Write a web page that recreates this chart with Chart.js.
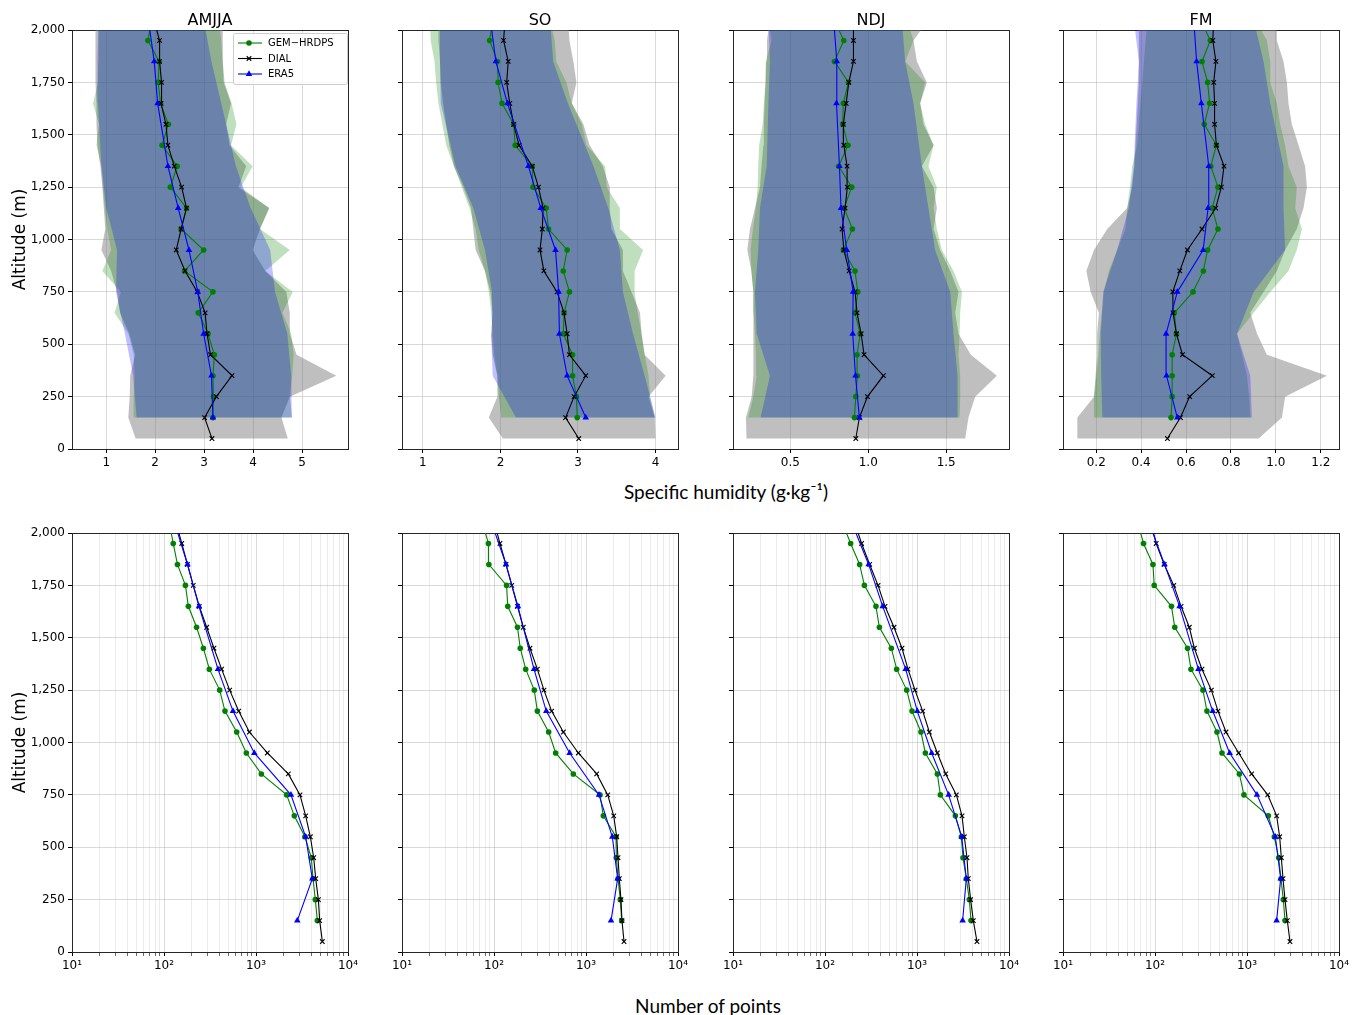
<!DOCTYPE html>
<html>
<head>
<meta charset="utf-8">
<title>Specific humidity profiles and sample counts by season</title>
<script src="https://cdn.jsdelivr.net/npm/chart.js@4.4.1/dist/chart.umd.min.js"></script>
<style>
  html, body { margin: 0; padding: 0; background: #fff; }
  #fig { position: relative; width: 1358px; height: 1015px; overflow: hidden; background: #fff; }
  #fig canvas { position: absolute; }
  .fig-label { position: absolute; font-family: 'Lato', 'Noto Sans', sans-serif; font-size: 19px; color: #000;
               white-space: nowrap; transform: translate(-50%, -50%); }
</style>
</head>
<body>
<div id="fig">
  <div class="fig-label" style="left:726px; top:491px;">Specific humidity (g·kg⁻¹)</div>
  <div class="fig-label" style="left:708px; top:1005px;">Number of points</div>
</div>
<script>
// ---------------------------------------------------------------------------
// Data
// ---------------------------------------------------------------------------
const seasons = ['AMJJA', 'SO', 'NDJ', 'FM'];
const seriesNames = ['GEM\u2212HRDPS', 'DIAL', 'ERA5'];

// Altitude levels (m): lidar from 50 m, GEM from 150 m, ERA5 on its own coarser levels
const altDial  = [50, 150, 250, 350, 450, 550, 650, 750, 850, 950, 1050, 1150, 1250, 1350, 1450, 1550, 1650, 1750, 1850, 1950, 2050];
const altModel = [150, 250, 350, 450, 550, 650, 750, 850, 950, 1050, 1150, 1250, 1350, 1450, 1550, 1650, 1750, 1850, 1950, 2050];
const altEra5  = [150, 350, 550, 750, 950, 1150, 1350, 1650, 1850, 2050];

// Specific-humidity axis limits and tick spacing per season (g/kg)
const qAxisMin  = [0.30, 0.73, 0.132, 0.052];
const qAxisMax  = [5.94, 4.29, 1.903, 1.281];
const qAxisStep = [1, 1, 0.5, 0.2];

// --- AMJJA: mean specific humidity (g/kg)
const qDial_AMJJA = [3.16, 3.01, 3.25, 3.57, 3.13, 3.06, 3.02, 2.86, 2.61, 2.43, 2.53, 2.64, 2.54, 2.39, 2.26, 2.22, 2.12, 2.13, 2.09, 2.09, 1.97];
const qGem_AMJJA  = [3.18, 3.19, 3.18, 3.21, 3.08, 2.88, 3.18, 2.60, 2.99, 2.53, 2.64, 2.31, 2.45, 2.14, 2.27, 2.11, 2.06, 2.08, 1.85, 1.93];
const qEra5_AMJJA = [3.18, 3.15, 2.99, 2.87, 2.69, 2.47, 2.26, 2.05, 1.98, 1.86];
// spread envelopes (low / high)
const dialLo_AMJJA = [1.60, 1.45, 1.48, 1.49, 1.59, 1.47, 1.28, 1.22, 1.10, 0.90, 0.98, 0.95, 0.92, 0.88, 0.82, 0.80, 0.80, 0.78, 0.78, 0.78, 0.78];
const dialHi_AMJJA = [4.71, 4.58, 4.75, 5.70, 4.89, 4.75, 4.75, 4.68, 4.25, 3.99, 4.14, 4.33, 3.70, 3.86, 3.52, 3.45, 3.55, 3.40, 3.38, 3.38, 3.38];
const gemLo_AMJJA  = [1.55, 1.56, 1.58, 1.56, 1.45, 1.17, 1.30, 0.92, 1.10, 1.02, 0.97, 0.93, 0.90, 0.80, 0.85, 0.73, 0.83, 0.84, 0.85, 0.84];
const gemHi_AMJJA  = [4.80, 4.75, 4.80, 4.83, 4.78, 4.60, 4.81, 4.25, 4.75, 4.14, 4.33, 3.75, 3.99, 3.55, 3.66, 3.56, 3.42, 3.38, 3.35, 3.30];
const era5Lo_AMJJA = [1.62, 1.55, 1.38, 1.20, 1.22, 1.00, 0.90, 0.83, 0.82, 0.84];
const era5Hi_AMJJA = [4.79, 4.78, 4.70, 4.45, 4.35, 3.95, 3.65, 3.35, 3.15, 2.99];

// --- SO
const qDial_SO = [3.01, 2.84, 2.95, 3.10, 2.89, 2.86, 2.82, 2.73, 2.56, 2.51, 2.54, 2.55, 2.49, 2.41, 2.24, 2.17, 2.12, 2.08, 2.10, 2.04, 2.06];
const qGem_SO  = [2.99, 2.98, 2.93, 2.93, 2.81, 2.82, 2.89, 2.81, 2.86, 2.62, 2.59, 2.42, 2.41, 2.19, 2.17, 2.02, 1.97, 1.96, 1.86, 1.90];
const qEra5_SO = [3.10, 2.86, 2.76, 2.75, 2.71, 2.52, 2.36, 2.09, 1.94, 1.87];
const dialLo_SO = [2.03, 1.85, 1.96, 1.96, 1.90, 1.88, 1.90, 1.87, 1.80, 1.68, 1.65, 1.62, 1.52, 1.40, 1.34, 1.30, 1.26, 1.23, 1.22, 1.20, 1.20];
const dialHi_SO = [4.00, 3.99, 3.91, 4.13, 3.86, 3.82, 3.80, 3.69, 3.58, 3.58, 3.43, 3.41, 3.41, 3.32, 3.15, 3.07, 2.92, 2.98, 2.94, 2.89, 2.87];
const gemLo_SO  = [2.01, 1.98, 1.96, 1.92, 1.90, 1.88, 1.85, 1.80, 1.72, 1.68, 1.60, 1.50, 1.40, 1.30, 1.25, 1.20, 1.17, 1.15, 1.10, 1.09];
const gemHi_SO  = [3.99, 3.93, 3.91, 3.86, 3.82, 3.77, 3.73, 3.73, 3.84, 3.54, 3.54, 3.37, 3.35, 3.11, 3.05, 2.92, 2.85, 2.72, 2.70, 2.64];
const era5Lo_SO = [2.20, 1.90, 1.88, 1.89, 1.80, 1.65, 1.42, 1.23, 1.22, 1.22];
const era5Hi_SO = [4.00, 3.86, 3.71, 3.58, 3.54, 3.39, 3.20, 2.87, 2.68, 2.64];

// --- NDJ
const qDial_NDJ = [0.920, 0.943, 0.995, 1.097, 0.973, 0.954, 0.928, 0.915, 0.877, 0.843, 0.832, 0.851, 0.866, 0.864, 0.843, 0.840, 0.858, 0.875, 0.905, 0.905, 0.905];
const qGem_NDJ  = [0.911, 0.920, 0.930, 0.928, 0.948, 0.915, 0.933, 0.915, 0.840, 0.898, 0.845, 0.894, 0.810, 0.870, 0.836, 0.840, 0.873, 0.783, 0.843, 0.780];
const qEra5_NDJ = [0.943, 0.918, 0.900, 0.903, 0.862, 0.825, 0.815, 0.796, 0.798, 0.778];
const dialLo_NDJ = [0.219, 0.215, 0.252, 0.262, 0.265, 0.262, 0.262, 0.262, 0.250, 0.224, 0.241, 0.273, 0.305, 0.315, 0.327, 0.330, 0.335, 0.340, 0.345, 0.350, 0.369];
const dialHi_NDJ = [1.622, 1.643, 1.686, 1.825, 1.658, 1.579, 1.558, 1.579, 1.526, 1.461, 1.419, 1.440, 1.419, 1.344, 1.419, 1.354, 1.333, 1.376, 1.312, 1.290, 1.386];
const gemLo_NDJ  = [0.230, 0.262, 0.284, 0.280, 0.273, 0.265, 0.262, 0.250, 0.245, 0.260, 0.279, 0.290, 0.294, 0.300, 0.322, 0.330, 0.342, 0.342, 0.380, 0.359];
const gemHi_NDJ  = [1.586, 1.590, 1.590, 1.579, 1.586, 1.590, 1.601, 1.547, 1.472, 1.440, 1.419, 1.440, 1.386, 1.419, 1.365, 1.333, 1.365, 1.237, 1.290, 1.247];
const era5Lo_NDJ = [0.309, 0.369, 0.284, 0.273, 0.294, 0.305, 0.348, 0.359, 0.369, 0.359];
const era5Hi_NDJ = [1.573, 1.573, 1.547, 1.526, 1.429, 1.386, 1.344, 1.290, 1.237, 1.215];

// --- FM
const qDial_FM = [0.517, 0.575, 0.616, 0.717, 0.584, 0.557, 0.542, 0.541, 0.572, 0.606, 0.671, 0.732, 0.757, 0.769, 0.735, 0.727, 0.727, 0.723, 0.733, 0.719, 0.723];
const qGem_FM  = [0.533, 0.538, 0.538, 0.538, 0.557, 0.548, 0.631, 0.677, 0.696, 0.742, 0.716, 0.742, 0.710, 0.735, 0.681, 0.705, 0.696, 0.671, 0.708, 0.664];
const qEra5_FM = [0.561, 0.513, 0.511, 0.561, 0.676, 0.698, 0.701, 0.668, 0.647, 0.634];
const dialLo_FM = [0.116, 0.116, 0.190, 0.197, 0.204, 0.204, 0.212, 0.175, 0.156, 0.190, 0.249, 0.338, 0.360, 0.370, 0.375, 0.380, 0.385, 0.390, 0.390, 0.390, 0.390];
const dialHi_FM = [0.923, 1.027, 1.041, 1.227, 0.960, 0.916, 0.886, 0.945, 1.004, 1.041, 1.093, 1.123, 1.138, 1.130, 1.101, 1.071, 1.056, 1.049, 1.034, 1.004, 1.004];
const gemLo_FM  = [0.187, 0.190, 0.201, 0.210, 0.216, 0.225, 0.234, 0.256, 0.293, 0.330, 0.338, 0.350, 0.360, 0.382, 0.390, 0.397, 0.405, 0.412, 0.420, 0.427];
const gemHi_FM  = [0.886, 0.881, 0.871, 0.849, 0.827, 0.901, 0.975, 1.056, 1.093, 1.116, 1.086, 1.093, 1.056, 1.041, 1.019, 1.004, 0.975, 0.975, 0.960, 0.908];
const era5Lo_FM = [0.227, 0.222, 0.220, 0.231, 0.293, 0.345, 0.367, 0.379, 0.390, 0.367];
const era5Hi_FM = [0.893, 0.886, 0.827, 0.901, 1.041, 1.034, 1.034, 0.975, 0.945, 0.901];

// --- Number of points per level
const nDial_AMJJA = [5263, 4923, 4764, 4456, 4237, 3898, 3466, 3006, 2245, 1328, 847, 648, 517, 423, 349, 291, 242, 208, 180, 156, 135];
const nGem_AMJJA  = [4643, 4413, 4170, 3990, 3400, 2610, 2153, 1143, 785, 617, 460, 403, 311, 268, 226, 184, 171, 140, 126, 114];
const nEra5_AMJJA = [2812, 4093, 3467, 2398, 959, 562, 386, 240, 180, 130];

const nDial_SO = [2589, 2460, 2399, 2303, 2228, 2155, 2001, 1722, 1306, 826, 567, 423, 349, 296, 246, 208, 180, 156, 135, 116, 101];
const nGem_SO  = [2442, 2361, 2228, 2137, 2118, 1543, 1419, 728, 468, 393, 296, 274, 221, 193, 180, 141, 137, 88, 87, 75];
const nEra5_SO = [1871, 2209, 1932, 1384, 664, 370, 272, 182, 135, 94];

const nDial_NDJ = [4486, 4093, 3829, 3611, 3494, 3268, 3085, 2679, 2050, 1664, 1362, 1153, 951, 798, 687, 562, 449, 377, 306, 250, 210];
const nGem_NDJ  = [3864, 3705, 3436, 3164, 3035, 2612, 1794, 1664, 1232, 1105, 883, 773, 601, 526, 390, 358, 268, 238, 190, 154];
const nEra5_NDJ = [3133, 3436, 3063, 2208, 1443, 1008, 753, 424, 298, 195];

const nDial_FM = [2932, 2743, 2588, 2462, 2362, 2264, 2101, 1679, 1124, 812, 591, 484, 410, 324, 268, 236, 192, 160, 126, 103, 90];
const nGem_FM  = [2588, 2483, 2340, 2209, 1983, 1706, 927, 826, 535, 472, 367, 332, 246, 226, 164, 151, 98, 95, 75, 65];
const nEra5_FM = [2099, 2323, 2033, 1284, 648, 424, 296, 185, 127, 86];

// Per-season lookup built from the arrays above
const seasonData = [
  { q: [qGem_AMJJA, qDial_AMJJA, qEra5_AMJJA], lo: [gemLo_AMJJA, dialLo_AMJJA, era5Lo_AMJJA], hi: [gemHi_AMJJA, dialHi_AMJJA, era5Hi_AMJJA], n: [nGem_AMJJA, nDial_AMJJA, nEra5_AMJJA] },
  { q: [qGem_SO, qDial_SO, qEra5_SO], lo: [gemLo_SO, dialLo_SO, era5Lo_SO], hi: [gemHi_SO, dialHi_SO, era5Hi_SO], n: [nGem_SO, nDial_SO, nEra5_SO] },
  { q: [qGem_NDJ, qDial_NDJ, qEra5_NDJ], lo: [gemLo_NDJ, dialLo_NDJ, era5Lo_NDJ], hi: [gemHi_NDJ, dialHi_NDJ, era5Hi_NDJ], n: [nGem_NDJ, nDial_NDJ, nEra5_NDJ] },
  { q: [qGem_FM, qDial_FM, qEra5_FM], lo: [gemLo_FM, dialLo_FM, era5Lo_FM], hi: [gemHi_FM, dialHi_FM, era5Hi_FM], n: [nGem_FM, nDial_FM, nEra5_FM] }
];
const seriesAlt = [altModel, altDial, altEra5];

// ---------------------------------------------------------------------------
// Styling and layout
// ---------------------------------------------------------------------------
const lineColor = ['#008000', '#000000', '#0000ff'];
const marker    = ['circle', 'crossRot', 'triangle'];
const markerR   = [2.8, 3.2, 3.8];
const markerBW  = [0, 1.1, 0];
const bandColor = ['rgba(0,128,0,0.25)', 'rgba(128,128,128,0.5)', 'rgba(0,0,255,0.25)'];
// drawing order: lidar band first, then model bands, then the profiles
const bandOrder = [5, 6, 4];
const lineOrder = [3, 2, 1];

const GRID = 'rgba(176,176,176,0.48)';
const GRID_MINOR = 'rgba(176,176,176,0.25)';
const SPINE = '#262626';
const AX = { left: 72, right: 14, top: 30, bottom: 34 };
const PLOT_W = 276, PLOT_H = 419;
const colLeft = [72, 402, 733, 1063];
const rowTop = [30, 533];

Chart.defaults.font.family = "'DejaVu Sans', sans-serif";
Chart.defaults.color = '#000';

function toPoints(xs, alts) { return xs.map((x, i) => ({ x, y: alts[i] })); }
function bandPolygon(lo, hi, alts) {
  const left = lo.map((x, i) => ({ x, y: alts[i] }));
  const right = hi.map((x, i) => ({ x, y: alts[i] })).reverse();
  return left.concat(right);
}

function lineDataset(k, xs) {
  return {
    label: seriesNames[k],
    data: toPoints(xs, seriesAlt[k]),
    borderColor: lineColor[k],
    backgroundColor: lineColor[k],
    borderWidth: 1.1,
    pointStyle: marker[k],
    pointRadius: markerR[k],
    pointBorderWidth: markerBW[k],
    pointBackgroundColor: lineColor[k],
    pointBorderColor: lineColor[k],
    fill: false,
    tension: 0,
    order: lineOrder[k]
  };
}

function bandDataset(k, lo, hi) {
  return {
    label: seriesNames[k] + ' spread',
    data: bandPolygon(lo, hi, seriesAlt[k]),
    borderWidth: 0,
    borderColor: 'rgba(0,0,0,0)',
    backgroundColor: bandColor[k],
    pointRadius: 0,
    fill: 'shape',
    tension: 0,
    order: bandOrder[k]
  };
}

function altitudeAxis(col, z) {
  return {
    type: 'linear', position: 'left', min: 0, max: 2000, z,
    afterFit: s => { s.width = AX.left; },
    ticks: {
      stepSize: 250, autoSkip: false, padding: 3, font: { size: 12 }, color: '#000',
      callback: v => col === 0 ? Number(v).toLocaleString('en-US') : ''
    },
    grid: { color: GRID, lineWidth: 1, drawTicks: true, tickLength: 4, tickColor: '#000', tickWidth: 1 },
    border: { display: true, color: SPINE, width: 1 },
    title: { display: col === 0, text: 'Altitude (m)', color: '#000', font: { size: 17 }, padding: { top: 10, bottom: 0 } }
  };
}

function frameAxis(position, titleText) {
  const horizontal = position === 'top' || position === 'bottom';
  return {
    type: 'linear', position, min: 0, max: 1, display: true,
    afterFit: s => { if (horizontal) s.height = AX.top; else s.width = AX.right; },
    ticks: { display: false },
    grid: { display: false, drawTicks: false },
    border: { display: true, color: SPINE, width: 1 },
    title: titleText
      ? { display: true, text: titleText, color: '#000', font: { size: 16 }, padding: { top: 11, bottom: 0 } }
      : { display: false }
  };
}

const isPow10 = v => { const e = Math.log10(v); return Math.abs(e - Math.round(e)) < 1e-9; };
const supDigits = { '1': '\u00b9', '2': '\u00b2', '3': '\u00b3', '4': '\u2074' };

// legend with line + marker samples, drawn inside the upper-right corner of the plot
const lineLegend = {
  id: 'lineLegend',
  afterDraw(chart) {
    const { ctx, chartArea: a } = chart;
    const w = 114, h = 51;
    const x0 = a.right - w - 1, y0 = a.top + 3;
    ctx.save();
    ctx.beginPath();
    if (ctx.roundRect) ctx.roundRect(x0 + 0.5, y0 + 0.5, w, h, 2); else ctx.rect(x0 + 0.5, y0 + 0.5, w, h);
    ctx.fillStyle = 'rgba(255,255,255,0.8)';
    ctx.fill();
    ctx.strokeStyle = '#cccccc';
    ctx.lineWidth = 1;
    ctx.stroke();
    ctx.font = "10px 'DejaVu Sans', sans-serif";
    ctx.textBaseline = 'middle';
    ctx.textAlign = 'left';
    for (let k = 0; k < 3; k++) {
      const y = y0 + 10 + k * 15.5;
      const lx0 = x0 + 5, lx1 = x0 + 29, mx = x0 + 16;
      ctx.strokeStyle = lineColor[k];
      ctx.lineWidth = 1.1;
      ctx.beginPath(); ctx.moveTo(lx0, y); ctx.lineTo(lx1, y); ctx.stroke();
      ctx.fillStyle = lineColor[k];
      ctx.beginPath();
      if (marker[k] === 'circle') {
        ctx.arc(mx, y, markerR[k], 0, Math.PI * 2); ctx.fill();
      } else if (marker[k] === 'crossRot') {
        const d = markerR[k] * Math.SQRT1_2;
        ctx.moveTo(mx - d, y - d); ctx.lineTo(mx + d, y + d);
        ctx.moveTo(mx + d, y - d); ctx.lineTo(mx - d, y + d);
        ctx.stroke();
      } else {
        const r = markerR[k], s = Math.sin(2 * Math.PI / 3) * r, c = Math.cos(2 * Math.PI / 3) * r;
        ctx.moveTo(mx, y - r); ctx.lineTo(mx + s, y - c); ctx.lineTo(mx - s, y - c); ctx.closePath(); ctx.fill();
      }
      ctx.fillStyle = '#000';
      ctx.fillText(seriesNames[k], x0 + 35, y + 0.5);
    }
    ctx.restore();
  }
};

function makeCanvas(row, col) {
  const c = document.createElement('canvas');
  const W = AX.left + PLOT_W + AX.right, H = AX.top + PLOT_H + AX.bottom;
  c.width = W; c.height = H;
  c.style.width = W + 'px'; c.style.height = H + 'px';
  c.style.left = (colLeft[col] - AX.left) + 'px';
  c.style.top = (rowTop[row] - AX.top) + 'px';
  document.getElementById('fig').appendChild(c);
  return c;
}

function baseOptions(scales) {
  return {
    responsive: false, maintainAspectRatio: false, animation: false, devicePixelRatio: 1,
    events: [],
    layout: { padding: 0 },
    plugins: { legend: { display: false }, tooltip: { enabled: false }, title: { display: false } },
    scales
  };
}

// Top row: specific humidity profiles with spread envelopes
seasons.forEach((name, col) => {
  const d = seasonData[col];
  const step = qAxisStep[col];
  const datasets = [];
  for (let k = 0; k < 3; k++) datasets.push(bandDataset(k, d.lo[k], d.hi[k]));
  for (let k = 0; k < 3; k++) datasets.push(lineDataset(k, d.q[k]));
  const scales = {
    x: {
      type: 'linear', position: 'bottom', min: qAxisMin[col], max: qAxisMax[col], z: 1,
      afterFit: s => { s.height = AX.bottom; },
      ticks: {
        stepSize: step, includeBounds: false, autoSkip: false, maxRotation: 0, padding: 3,
        font: { size: 12 }, color: '#000',
        callback: v => step < 1 ? Number(v).toFixed(1) : String(Math.round(v))
      },
      grid: { color: GRID, lineWidth: 1, drawTicks: true, tickLength: 4, tickColor: '#000', tickWidth: 1 },
      border: { display: true, color: SPINE, width: 1 }
    },
    y: altitudeAxis(col, 1),
    xTop: frameAxis('top', name),
    yRight: frameAxis('right')
  };
  new Chart(makeCanvas(0, col), {
    type: 'line',
    data: { datasets },
    options: baseOptions(scales),
    plugins: col === 0 ? [lineLegend] : []
  });
});

// Bottom row: number of points per level (log scale)
seasons.forEach((name, col) => {
  const d = seasonData[col];
  const datasets = [];
  for (let k = 0; k < 3; k++) datasets.push(lineDataset(k, d.n[k]));
  const scales = {
    x: {
      type: 'logarithmic', position: 'bottom', min: 10, max: 10000,
      afterFit: s => { s.height = AX.bottom; },
      afterBuildTicks: s => {
        s.ticks = s.ticks.filter(t => {
          const m = t.value / Math.pow(10, Math.floor(Math.log10(t.value) + 1e-9));
          return Math.abs(m - Math.round(m)) < 1e-6;
        });
      },
      ticks: {
        autoSkip: false, maxRotation: 0, padding: 3, font: { size: 12 }, color: '#000',
        callback: v => isPow10(v) ? '10' + supDigits[String(Math.round(Math.log10(v)))] : ''
      },
      grid: {
        lineWidth: 1, drawTicks: true, tickLength: 4, tickWidth: 1,
        color: c => (c.tick && isPow10(c.tick.value)) ? GRID : GRID_MINOR,
        tickColor: c => (c.tick && isPow10(c.tick.value)) ? '#000' : 'rgba(0,0,0,0.6)'
      },
      border: { display: true, color: SPINE, width: 1 }
    },
    y: altitudeAxis(col, 0),
    xTop: frameAxis('top'),
    yRight: frameAxis('right')
  };
  new Chart(makeCanvas(1, col), {
    type: 'line',
    data: { datasets },
    options: baseOptions(scales)
  });
});
</script>
</body>
</html>
